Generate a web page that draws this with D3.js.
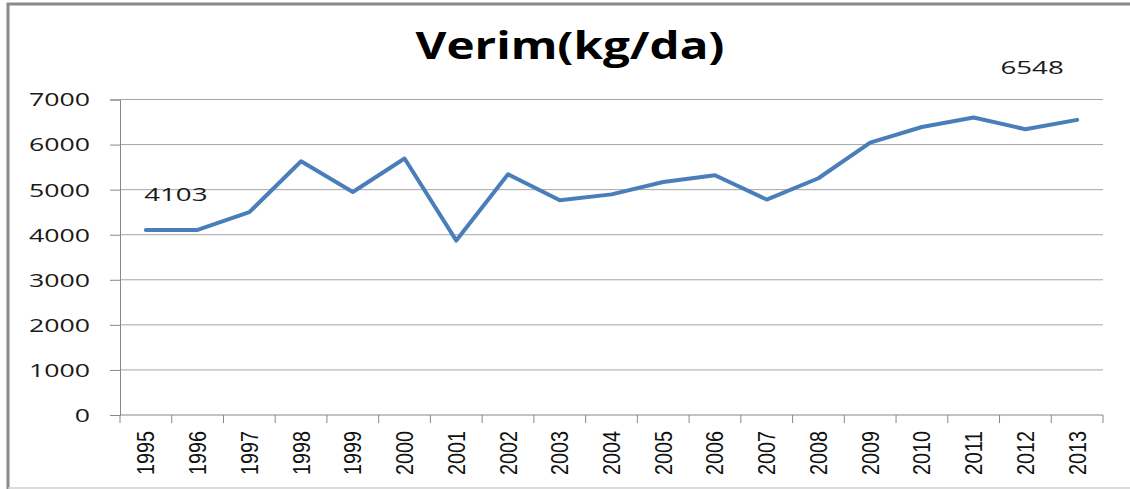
<!DOCTYPE html>
<html>
<head>
<meta charset="utf-8">
<script src="https://cdn.jsdelivr.net/npm/d3@7"></script>
<style>
  body { margin: 0; background: #fff; }
  svg { display: block; }
</style>
</head>
<body>
<main></main>
<script>
const years = ["1995", "1996", "1997", "1998", "1999", "2000", "2001", "2002", "2003", "2004",
               "2005", "2006", "2007", "2008", "2009", "2010", "2011", "2012", "2013"];
const verim = [4103, 4105, 4500, 5630, 4947, 5690, 3870, 5340, 4765, 4895,
               5170, 5318, 4780, 5253, 6044, 6390, 6600, 6340, 6548];
const yTicks = [0, 1000, 2000, 3000, 4000, 5000, 6000, 7000];
const labelled = ["1995", "2013"];

const width = 1130;
const height = 489;
const plot = { left: 120, right: 1103, top: 99.5, bottom: 415 };

const svg = d3.select("main")
    .append("svg")
    .attr("width", width)
    .attr("height", height);

// chart frame
svg.append("path")
    .attr("d", `M8,${height} V4 H${width}`)
    .attr("fill", "none")
    .attr("stroke", "#8a8a8a")
    .attr("stroke-width", 3);
svg.append("line")
    .attr("x1", 8).attr("x2", width)
    .attr("y1", 488).attr("y2", 488)
    .attr("stroke", "#d0d0d0")
    .attr("stroke-width", 1.5);

const xScale = d3.scaleBand()
    .domain(years)
    .range([plot.left, plot.right]);

const yScale = d3.scaleLinear()
    .domain([0, 7000])
    .range([plot.bottom, plot.top]);

// gridlines
svg.append("g")
    .selectAll("line")
    .data(yTicks.filter(d => d > 0))
    .enter()
    .append("line")
    .attr("x1", plot.left)
    .attr("x2", plot.right)
    .attr("y1", d => yScale(d))
    .attr("y2", d => yScale(d))
    .attr("stroke", "#a6a6a6")
    .attr("stroke-width", 1);

// y axis
const yAxis = d3.axisLeft(yScale)
    .tickValues(yTicks)
    .tickSize(10)
    .tickPadding(0)
    .tickFormat(d => d);

const gy = svg.append("g")
    .attr("transform", `translate(${plot.left}, 0)`)
    .call(yAxis);
gy.select(".domain").attr("stroke", "#888");
gy.selectAll(".tick line").attr("stroke", "#888");
gy.selectAll(".tick text")
    .attr("x", null)
    .attr("dy", null)
    .attr("transform", "translate(-30, 6.4) scale(1.5, 1)")
    .attr("fill", "#1a1a1a")
    .style("font-family", "'Open Sans', sans-serif")
    .style("font-size", "17.8px");

// x axis with ticks on category boundaries
svg.append("line")
    .attr("x1", plot.left).attr("x2", plot.right)
    .attr("y1", plot.bottom).attr("y2", plot.bottom)
    .attr("stroke", "#888");

svg.append("g")
    .selectAll("line")
    .data(years.concat(["end"]))
    .enter()
    .append("line")
    .attr("x1", (d, i) => i < years.length ? xScale(d) : plot.right)
    .attr("x2", (d, i) => i < years.length ? xScale(d) : plot.right)
    .attr("y1", plot.bottom)
    .attr("y2", plot.bottom + 8)
    .attr("stroke", "#888");

svg.append("g")
    .selectAll("text")
    .data(years)
    .enter()
    .append("text")
    .attr("transform", d => `translate(${xScale(d) + xScale.bandwidth() / 2 + 8.5}, 431) rotate(-90)`)
    .attr("text-anchor", "end")
    .attr("textLength", 44)
    .attr("lengthAdjust", "spacingAndGlyphs")
    .attr("fill", "#111")
    .style("font-family", "'Liberation Sans', Arial, sans-serif")
    .style("font-size", "24px")
    .text(d => d);

// the line
const line = d3.line()
    .x((d, i) => xScale(years[i]) + xScale.bandwidth() / 2)
    .y(d => yScale(d));

svg.append("path")
    .datum(verim)
    .attr("d", line)
    .attr("fill", "none")
    .attr("stroke", "#4a7ebb")
    .attr("stroke-width", 4)
    .attr("stroke-linejoin", "round")
    .attr("stroke-linecap", "round");

// data labels on first and last point
svg.append("g")
    .selectAll("text")
    .data(labelled)
    .enter()
    .append("text")
    .attr("transform", d => {
        const i = years.indexOf(d);
        const x = xScale(d) + xScale.bandwidth() / 2 + (i === 0 ? 30 : -45);
        const y = yScale(verim[i]) + (i === 0 ? -29 : -46);
        return `translate(${x}, ${y}) scale(1.5, 1)`;
    })
    .attr("text-anchor", "middle")
    .attr("fill", "#1a1a1a")
    .style("font-family", "'Open Sans', sans-serif")
    .style("font-size", "18.5px")
    .text(d => verim[years.indexOf(d)]);

// title
svg.append("text")
    .attr("x", 570)
    .attr("y", 59)
    .attr("text-anchor", "middle")
    .attr("textLength", 309)
    .attr("lengthAdjust", "spacingAndGlyphs")
    .attr("fill", "#000")
    .style("font-family", "'Open Sans', sans-serif")
    .style("font-weight", "bold")
    .style("font-size", "37px")
    .text("Verim(kg/da)");
</script>
</body>
</html>
